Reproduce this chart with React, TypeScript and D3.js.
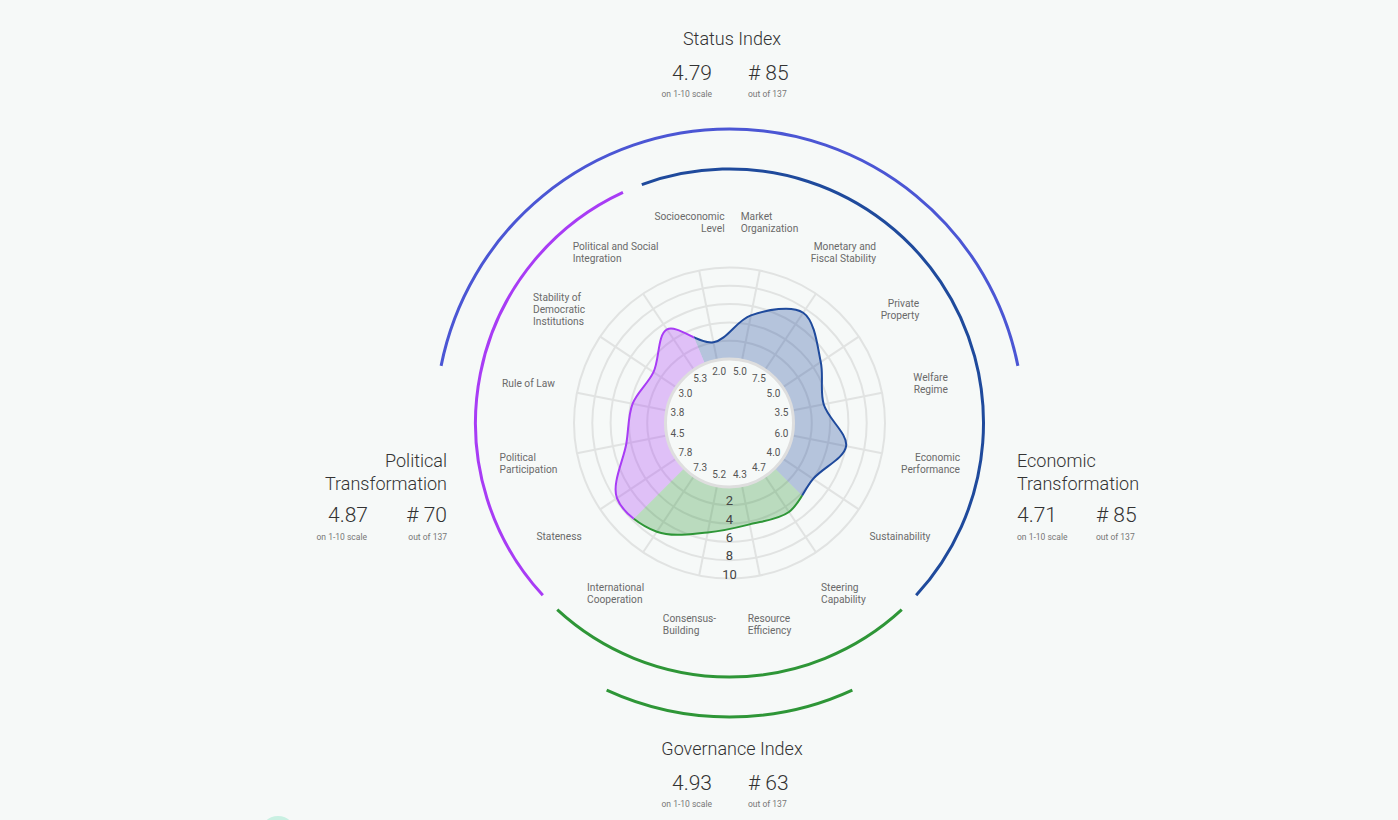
import React, { useEffect, useRef } from 'react';
import * as d3 from 'd3';

// ---------- data ----------
const categoryLabels: string[][] = [
  ['Market', 'Organization'],
  ['Monetary and', 'Fiscal Stability'],
  ['Private', 'Property'],
  ['Welfare', 'Regime'],
  ['Economic', 'Performance'],
  ['Sustainability'],
  ['Steering', 'Capability'],
  ['Resource', 'Efficiency'],
  ['Consensus-', 'Building'],
  ['International', 'Cooperation'],
  ['Stateness'],
  ['Political', 'Participation'],
  ['Rule of Law'],
  ['Stability of', 'Democratic', 'Institutions'],
  ['Political and Social', 'Integration'],
  ['Socioeconomic', 'Level'],
];
const categoryValues: number[] = [5.0, 7.5, 5.0, 3.5, 6.0, 4.0, 4.7, 4.3, 5.2, 7.3, 7.8, 4.5, 3.8, 3.0, 5.3, 2.0];
// sector of each group in category-slot units (slot i spans [i, i+1])
const groupIds = ['econ', 'gov', 'pol'];
const groupStart = [-1, 6, 10];
const groupEnd = [6, 10, 15];
const ringTicks = [2, 4, 6, 8, 10];

const indexNames = ['Status Index', 'Governance Index'];
const indexScores = ['4.79', '4.93'];
const indexRanks = ['85', '63'];
const dimensionNames = [['Political', 'Transformation'], ['Economic', 'Transformation']];
const dimensionScores = ['4.87', '4.71'];
const dimensionRanks = ['70', '85'];
const totalCountries = 137;

// ---------- styles ----------
const W = 1398, H = 820;
const CX = 729.5, CY = 423;
const BG = '#f6f9f8';
const groupColor: Record<string, string> = { econ: '#1f4a9c', gov: '#2e9637', pol: '#a83cf5' };
const statusColor = '#4b56d4';
const FONT = 'Roboto, "Open Sans", sans-serif';

export default function App() {
  const ref = useRef<SVGSVGElement | null>(null);

  useEffect(() => {
    const svg = d3.select(ref.current);
    svg.selectAll('*').remove();
    const n = categoryValues.length;
    const angle = d3.scaleLinear().domain([0, n]).range([0, 2 * Math.PI]);
    const rScale = d3.scaleLinear().domain([0, 10]).range([64, 155.5]);
    const deg = (d: number) => (d * Math.PI) / 180;

    svg.append('rect').attr('width', W).attr('height', H).attr('fill', BG);

    const g = svg.append('g').attr('transform', `translate(${CX},${CY})`);

    // grid rings
    g.selectAll('circle.ring').data(ringTicks).join('circle')
      .attr('class', 'ring').attr('r', (d) => rScale(d))
      .attr('fill', 'none').attr('stroke', '#e1e3e2').attr('stroke-width', 2);
    // spokes
    g.selectAll('line.spoke').data(d3.range(n)).join('line')
      .attr('class', 'spoke')
      .attr('x1', (i) => rScale(0) * Math.sin(angle(i + 0.5)))
      .attr('y1', (i) => -rScale(0) * Math.cos(angle(i + 0.5)))
      .attr('x2', (i) => rScale(10) * Math.sin(angle(i + 0.5)))
      .attr('y2', (i) => -rScale(10) * Math.cos(angle(i + 0.5)))
      .attr('stroke', '#e1e3e2').attr('stroke-width', 2);

    // shape
    const line = d3.lineRadial<number>()
      .angle((_, i) => angle(i + 0.5))
      .radius((v) => rScale(v))
      .curve(d3.curveCatmullRomClosed.alpha(0.5));
    const shapePath = line(categoryValues) as string;
    const defs = svg.append('defs');
    const sector = d3.arc<any>().innerRadius(0).outerRadius(240);
    groupIds.forEach((id, k) => {
      defs.append('clipPath').attr('id', `clip-${id}`)
        .append('path')
        .attr('d', sector({ startAngle: angle(groupStart[k]), endAngle: angle(groupEnd[k]) }) as string);
      g.append('path')
        .attr('d', shapePath)
        .attr('clip-path', `url(#clip-${id})`)
        .attr('fill', groupColor[id]).attr('fill-opacity', 0.3)
        .attr('stroke', groupColor[id]).attr('stroke-width', 2);
    });

    // inner circle
    g.append('circle').attr('r', rScale(0)).attr('fill', BG)
      .attr('stroke', '#dedede').attr('stroke-width', 3);

    // value labels inside
    g.selectAll('text.val').data(categoryValues).join('text')
      .attr('class', 'val')
      .attr('x', (_, i) => 53 * Math.sin(angle(i + 0.5)))
      .attr('y', (_, i) => -53 * Math.cos(angle(i + 0.5)))
      .attr('dy', '0.35em').attr('text-anchor', 'middle')
      .attr('font-family', FONT).attr('font-size', 10).attr('fill', '#555')
      .text((v) => v.toFixed(1));

    // ring tick labels along bottom axis
    g.selectAll('text.tick').data(ringTicks).join('text')
      .attr('class', 'tick')
      .attr('x', 0).attr('y', (d) => rScale(d) - 4.5)
      .attr('dy', '0.35em').attr('text-anchor', 'middle')
      .attr('font-family', FONT).attr('font-size', 13).attr('fill', '#444')
      .text((d) => String(d));

    // category labels
    categoryLabels.forEach((lines, i) => {
      const a = angle(i + 0.5);
      const lx = 205 * Math.sin(a);
      const ly = -205 * Math.cos(a);
      const alignEnd = (i >= 1 && i <= 5) || i === 15;
      const t = g.append('text')
        .attr('font-family', FONT).attr('font-size', 10.2).attr('fill', '#6a6a6a');
      const spans = lines.map((s, j) => t.append('tspan').text(s)
        .attr('y', ly - ((lines.length - 1) * 12) / 2 + j * 12 + 3.6));
      const widths = spans.map((sp) => (sp.node() as SVGTSpanElement).getComputedTextLength());
      const bw = Math.max(...widths);
      spans.forEach((sp) => {
        if (alignEnd) sp.attr('x', lx + bw / 2).attr('text-anchor', 'end');
        else sp.attr('x', lx - bw / 2).attr('text-anchor', 'start');
      });
    });

    // arcs
    const arcPath = (r: number, a0: number, a1: number) => {
      const p = d3.path();
      p.moveTo(r * Math.sin(a0), -r * Math.cos(a0));
      p.arc(0, 0, r, a0 - Math.PI / 2, a1 - Math.PI / 2, false);
      return p.toString();
    };
    const pad = deg(2.3);
    groupIds.forEach((id, k) => {
      g.append('path')
        .attr('d', arcPath(254, angle(groupStart[k]) + pad, angle(groupEnd[k]) - pad))
        .attr('fill', 'none').attr('stroke', groupColor[id]).attr('stroke-width', 3);
    });
    // status index outer arc (top), governance index outer arc (bottom)
    g.append('path').attr('d', arcPath(294, deg(-78.8), deg(78.8)))
      .attr('fill', 'none').attr('stroke', statusColor).attr('stroke-width', 3);
    g.append('path').attr('d', arcPath(294, deg(155.3), deg(204.7)))
      .attr('fill', 'none').attr('stroke', groupColor.gov).attr('stroke-width', 3);

    // text blocks
    const txt = (x: number, y: number, s: string, size: number, anchor: string, color: string, weight = 300) =>
      svg.append('text').attr('x', x).attr('y', y).attr('text-anchor', anchor)
        .attr('font-family', FONT).attr('font-size', size).attr('font-weight', weight)
        .attr('fill', color).text(s);

    const idxBaseY = [45, 755];
    indexNames.forEach((name, k) => {
      const by = idxBaseY[k];
      txt(732, by, name, 18, 'middle', '#333');
      txt(712, by + 35, indexScores[k], 21, 'end', '#333');
      txt(748, by + 35, `# ${indexRanks[k]}`, 21, 'start', '#333');
      txt(712, by + 52, 'on 1-10 scale', 8.5, 'end', '#777', 400);
      txt(748, by + 52, `out of ${totalCountries}`, 8.5, 'start', '#777', 400);
    });

    // political (left, right-aligned) and economic (right, left-aligned)
    dimensionNames[0].forEach((s, j) => txt(447, 467 + j * 23, s, 18, 'end', '#333'));
    txt(368, 522, dimensionScores[0], 21, 'end', '#333');
    txt(447, 522, `# ${dimensionRanks[0]}`, 21, 'end', '#333');
    txt(367, 540, 'on 1-10 scale', 8.5, 'end', '#777', 400);
    txt(447, 540, `out of ${totalCountries}`, 8.5, 'end', '#777', 400);

    dimensionNames[1].forEach((s, j) => txt(1017, 467 + j * 23, s, 18, 'start', '#333'));
    txt(1017, 522, dimensionScores[1], 21, 'start', '#333');
    txt(1096, 522, `# ${dimensionRanks[1]}`, 21, 'start', '#333');
    txt(1017, 540, 'on 1-10 scale', 8.5, 'start', '#777', 400);
    txt(1096, 540, `out of ${totalCountries}`, 8.5, 'start', '#777', 400);

    // decorative button partly visible at bottom-left
    svg.append('circle').attr('cx', 278).attr('cy', 834).attr('r', 18).attr('fill', '#c9f0e2');
  }, []);

  return (
    <svg ref={ref} width={W} height={H}
      style={{ position: 'absolute', left: 0, top: 0, display: 'block' }} />
  );
}
